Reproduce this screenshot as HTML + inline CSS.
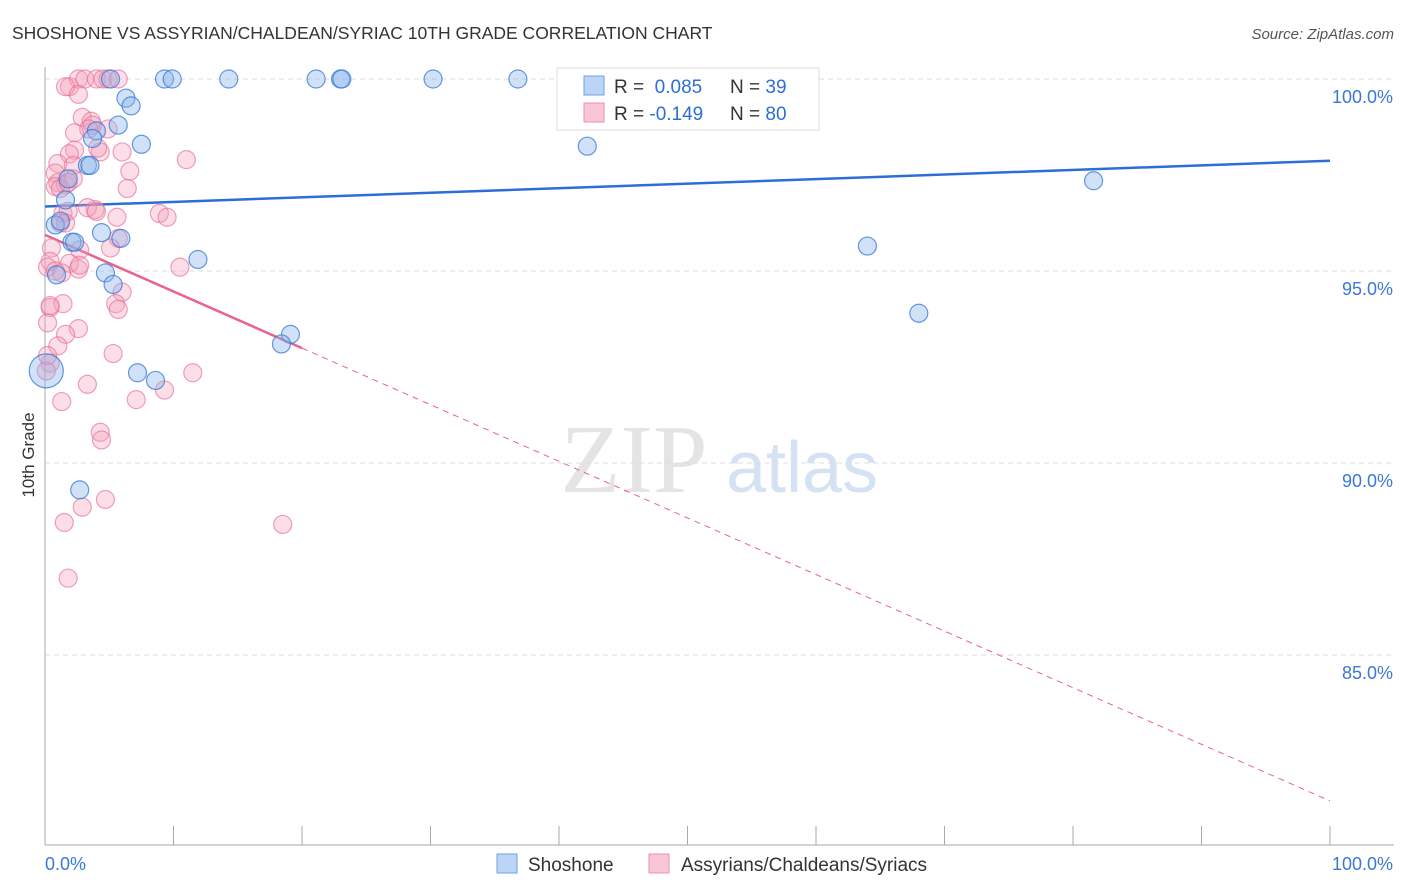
<!DOCTYPE html>
<html><head><meta charset="utf-8"><style>
body{margin:0;background:#fff;font-family:"Liberation Sans",sans-serif;}
svg{display:block}
</style></head><body>
<svg id="chart" width="1406" height="892" viewBox="0 0 1406 892">
<text x="12" y="39" font-size="17.5" fill="#333">SHOSHONE VS ASSYRIAN/CHALDEAN/SYRIAC 10TH GRADE CORRELATION CHART</text>
<text x="1394" y="39" font-size="15" fill="#555" font-style="italic" text-anchor="end">Source: ZipAtlas.com</text>
<g>
<text x="634" y="492" font-size="98" fill="#e4e4e4" font-family="Liberation Serif,serif" text-anchor="middle">ZIP</text>
<text x="802" y="492" font-size="72" fill="#d4e2f4" text-anchor="middle">atlas</text>
</g>
<g id="grid"></g>
<g id="axes"></g>
<g id="trend"></g>
<g id="points"></g>
<text transform="translate(34,455) rotate(-90)" font-size="17" fill="#333" text-anchor="middle">10th Grade</text>
<g>
<rect x="557" y="68" width="262" height="62" fill="#fff" stroke="#ddd"/>
<rect x="584" y="76" width="20" height="19" fill="#bcd4f6" stroke="#6fa0e6"/>
<rect x="584" y="103" width="20" height="19" fill="#f8c6d6" stroke="#ec90ad"/>
<text x="614" y="93" font-size="19" fill="#333">R = <tspan fill="#2c6fd6">&#160;0.085</tspan></text>
<text x="730" y="93" font-size="19" fill="#333">N = <tspan fill="#2c6fd6">39</tspan></text>
<text x="614" y="120" font-size="19" fill="#333">R = <tspan fill="#2c6fd6">-0.149</tspan></text>
<text x="730" y="120" font-size="19" fill="#333">N = <tspan fill="#2c6fd6">80</tspan></text>
</g>
<g>
<rect x="497" y="854" width="20" height="19" fill="#bcd4f6" stroke="#6fa0e6"/>
<text x="528" y="871" font-size="19" fill="#333">Shoshone</text>
<rect x="649" y="854" width="20" height="19" fill="#f8c6d6" stroke="#ec90ad"/>
<text x="681" y="871" font-size="19" fill="#333">Assyrians/Chaldeans/Syriacs</text>
</g>
</svg>
<script>
const yTicks=[100,95,90,85];
const yTickLabels=["100.0%","95.0%","90.0%","85.0%"];
const xTickLabels=["0.0%","100.0%"];
const blueX=[5.1,9.3,9.9,14.3,21.1,23.0,23.1,30.2,36.8,6.3,6.7,5.7,7.5,4.0,3.7,3.3,3.5,1.8,1.6,0.8,1.2,4.4,2.1,2.3,5.9,11.9,0.9,4.7,5.3,42.2,81.6,64.0,68.0,19.1,18.4,7.2,8.6,2.7,0.1];
const blueY=[100,100,100,100,100,100,100,100,100,99.5,99.3,98.8,98.3,98.65,98.45,97.75,97.75,97.4,96.85,96.2,96.3,96.0,95.75,95.75,95.85,95.3,94.9,94.95,94.65,98.25,97.35,95.65,93.9,93.35,93.1,92.35,92.15,89.3,92.4];
const pinkX=[1.9,2.6,3.1,4.0,4.5,4.9,5.7,1.6,2.6,2.9,3.6,3.7,3.4,2.3,4.9,2.3,4.3,1.9,1.0,2.2,0.8,6.6,6.0,11.0,4.1,6.4,1.0,1.6,2.2,0.8,1.2,1.8,3.9,3.3,4.0,5.6,8.9,9.5,1.4,1.8,1.2,1.6,5.7,5.1,2.7,0.5,0.4,1.9,0.2,0.8,1.3,2.6,2.7,10.5,6.0,5.5,5.7,0.4,1.4,0.2,2.6,1.6,5.3,1.0,0.4,0.1,3.3,11.5,1.3,7.1,9.3,4.3,4.4,4.7,2.9,1.5,18.5,1.8,0.2,0.4];
const pinkY=[99.8,100,100,100,100,100,100,99.8,99.6,99.0,98.9,98.8,98.7,98.6,98.7,98.15,98.1,98.05,97.8,97.75,97.55,97.6,98.1,97.9,98.2,97.15,97.3,97.25,97.4,97.2,97.15,97.3,96.6,96.65,96.55,96.4,96.5,96.4,96.5,96.55,96.25,96.25,95.85,95.6,95.55,95.6,95.25,95.2,95.1,95.0,94.95,95.05,95.15,95.1,94.45,94.15,94.0,94.05,94.15,93.65,93.5,93.35,92.85,93.05,92.6,92.4,92.05,92.35,91.6,91.65,91.9,90.8,90.6,89.05,88.85,88.45,88.4,87.0,92.8,94.1];
const blueTrend=[96.68,97.87];
const pinkTrend=[95.94,81.2];
const pinkSolidEnd=20;
const X0=45,X1=1330,Y100=79,PX_PER_PCT=38.4;
const sx=v=>X0+(X1-X0)*v/100;
const sy=v=>Y100+(100-v)*PX_PER_PCT;
const NS="http://www.w3.org/2000/svg";
function mk(tag,attrs,parent){const e=document.createElementNS(NS,tag);for(const k in attrs)e.setAttribute(k,attrs[k]);parent.appendChild(e);return e;}
const grid=document.getElementById('grid'),axes=document.getElementById('axes'),trend=document.getElementById('trend'),pts=document.getElementById('points');
yTicks.forEach((t,i)=>{
 const l=mk('line',{x1:X0,x2:1394,y1:sy(t),y2:sy(t),stroke:'#ddd','stroke-dasharray':'5,4'},grid);
 
 
 const tx=mk('text',{x:1393,y:sy(t)+24,'font-size':18,fill:'#3a78d8','text-anchor':'end'},axes);
 tx.textContent=yTickLabels[i];
 
 
});
const ya=mk('line',{x1:X0,x2:X0,y1:67,y2:845,stroke:'#aaa'},axes);


const xa=mk('line',{x1:X0,x2:1394,y1:845,y2:845,stroke:'#aaa'},axes);


for(let i=0;i<=10;i++){const t=mk('line',{x1:sx(i*10),x2:sx(i*10),y1:826,y2:845,stroke:'#aaa'},axes);
 
 }
[[0,'start',X0],[1,'end',1393]].forEach(([i,a,x])=>{const t=mk('text',{x:x,y:870,'font-size':18,fill:'#3a78d8','text-anchor':a},axes);t.textContent=xTickLabels[i];
 
 });
function circ(x,y,fill,stroke,name,r){const c=mk('circle',{cx:sx(x),cy:sy(y),r:r||9,fill:fill,stroke:stroke,'stroke-width':1.2},pts);
 
 }
pinkX.forEach((x,i)=>circ(x,pinkY[i],'rgba(244,160,186,0.35)','rgba(232,110,150,0.65)','point-assyrian'));
blueX.forEach((x,i)=>circ(x,blueY[i],'rgba(140,180,236,0.4)','rgba(50,120,215,0.75)','point-shoshone',i===blueX.length-1?17:9));
const bt=mk('line',{x1:sx(0),y1:sy(blueTrend[0]),x2:sx(100),y2:sy(blueTrend[1]),stroke:'#2b6fd6','stroke-width':2.5},trend);


const py=x=>pinkTrend[0]+(pinkTrend[1]-pinkTrend[0])*x/100;
const ps=mk('line',{x1:sx(0),y1:sy(py(0)),x2:sx(pinkSolidEnd),y2:sy(py(pinkSolidEnd)),stroke:'#e8638d','stroke-width':2.5},trend);


const pd=mk('line',{x1:sx(pinkSolidEnd),y1:sy(py(pinkSolidEnd)),x2:sx(100),y2:sy(py(100)),stroke:'#e8638d','stroke-width':1,'stroke-dasharray':'6,5'},trend);


</script>
</body></html>
